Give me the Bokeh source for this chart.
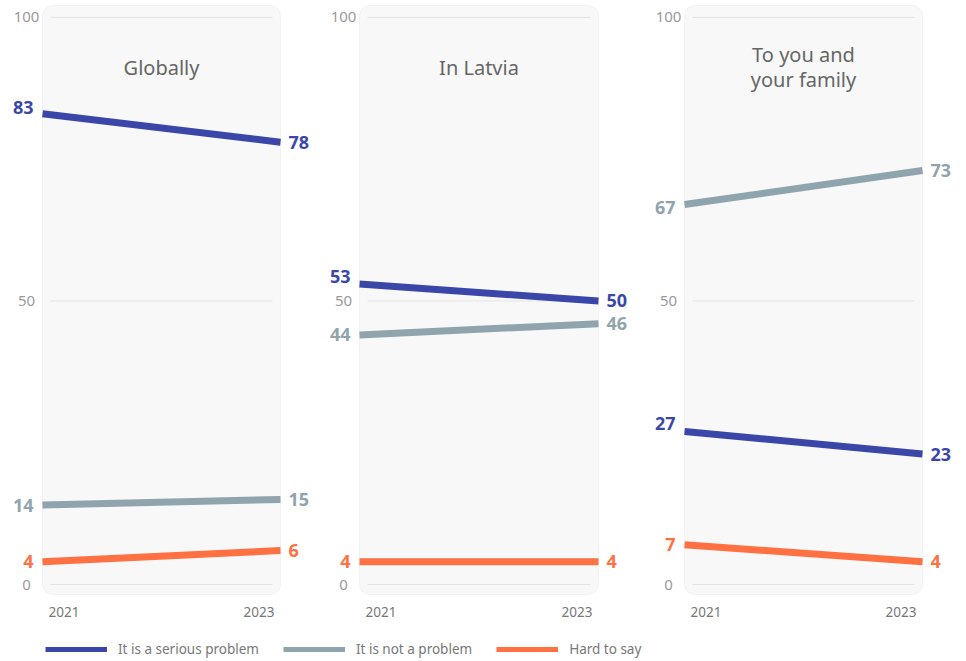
from bokeh.plotting import figure
from bokeh.layouts import row, column
from bokeh.models import (ColumnDataSource, LabelSet, Label, BoxAnnotation, Legend,
                          LegendItem, Range1d)
from bokeh.core.properties import value, field
from bokeh.embed import file_html
from bokeh.resources import INLINE

# ---- data ----
years = [2021, 2023]
panel_titles = ["Globally", "In Latvia", "To you and\nyour family"]
series_names = ["It is a serious problem", "It is not a problem", "Hard to say"]
serious = [[83, 78], [53, 50], [27, 23]]
not_problem = [[14, 15], [44, 46], [67, 73]]
hard_to_say = [[4, 6], [4, 4], [7, 4]]
y_ticks = [0, 50, 100]

# ---- style / layout ----
colors = ["#3a47a9", "#90a4ae", "#ff7043"]
FONT = "Noto Sans"
left_nudge = [[6, 0, 0], [7, 0, 0], [8, -3, 0]]   # px, label collision nudges
fig_w = [320, 322, 324]
panel_l = [42, 39, 42]
panel_w = [238, 239, 238]
PANEL_TOP, PANEL_BOT, FIG_H = 5, 594, 625
Y0, Y1 = -1.76, 102.1          # values at the panel's bottom / top edge
PPU = (PANEL_BOT - PANEL_TOP) / (Y1 - Y0)


def make_panel(i):
    pxper = panel_w[i] / (years[-1] - years[0])
    xs = years[0] - panel_l[i] / pxper
    xe = years[-1] + (fig_w[i] - panel_l[i] - panel_w[i]) / pxper
    ys = Y0 - (FIG_H - PANEL_BOT) / PPU
    ye = Y1 + PANEL_TOP / PPU
    p = figure(width=fig_w[i], height=FIG_H, min_border=0,
               x_axis_type=None, y_axis_type=None,
               x_range=Range1d(xs, xe), y_range=Range1d(ys, ye),
               output_backend="svg", toolbar_location=None, tools="")
    p.background_fill_color = "white"
    p.border_fill_color = "white"
    p.outline_line_color = None

    box = BoxAnnotation(left=years[0], right=years[-1], bottom=Y0, top=Y1,
                        fill_color="#f8f8f8", fill_alpha=1.0, line_color="#dddddd",
                        line_width=1, border_radius=10, level="image")
    p.add_layout(box)

    inset = 8 / pxper
    p.segment(x0=[years[0] + inset] * len(y_ticks), x1=[years[-1] - inset] * len(y_ticks),
              y0=y_ticks, y1=y_ticks, line_color="#e4e4e4", line_width=1)

    tick_src = ColumnDataSource(dict(x=[years[0]] * len(y_ticks), y=y_ticks,
                                     text=[str(t) for t in y_ticks]))
    p.add_layout(LabelSet(x="x", y="y", text="text", source=tick_src, x_offset=-16,
                          text_align="center", text_baseline="middle",
                          text_color="#9a9a9a", text_font=value(FONT),
                          text_font_size=value("15px")))

    vals = [serious[i], not_problem[i], hard_to_say[i]]
    for v, c in zip(vals, colors):
        p.line(years, v, line_width=7, color=c, line_cap="butt")

    left_src = ColumnDataSource(dict(
        x=[years[0]] * 3, y=[v[0] for v in vals], text=[str(v[0]) for v in vals],
        color=colors, dy=left_nudge[i]))
    right_src = ColumnDataSource(dict(
        x=[years[-1]] * 3, y=[v[-1] for v in vals], text=[str(v[-1]) for v in vals],
        color=colors))
    p.add_layout(LabelSet(x="x", y="y", text="text", source=left_src,
                          text_color=field("color"), x_offset=-9, y_offset=field("dy"),
                          text_align="right", text_baseline="middle",
                          text_font=value(FONT), text_font_size=value("18px"),
                          text_font_style="bold"))
    p.add_layout(LabelSet(x="x", y="y", text="text", source=right_src,
                          text_color=field("color"), x_offset=8,
                          text_align="left", text_baseline="middle",
                          text_font=value(FONT), text_font_size=value("18px"),
                          text_font_style="bold"))

    p.add_layout(Label(x=(years[0] + years[-1]) / 2, y=91.2, text=panel_titles[i],
                       text_align="center", text_baseline="middle",
                       text_font=FONT, text_font_size="20px", text_color="#666666",
                       text_line_height=0.92))
    p.add_layout(Label(x=years[0], y=Y0, x_offset=6, y_offset=-17, text=str(years[0]),
                       text_align="left", text_baseline="middle",
                       text_font=FONT, text_font_size="13.5px", text_color="#777777"))
    p.add_layout(Label(x=years[-1], y=Y0, x_offset=-6, y_offset=-17, text=str(years[-1]),
                       text_align="right", text_baseline="middle",
                       text_font=FONT, text_font_size="13.5px", text_color="#777777"))
    return p


panels = [make_panel(i) for i in range(3)]

lf = figure(width=sum(fig_w), height=35, min_border=0, toolbar_location=None, tools="",
            output_backend="svg", x_range=Range1d(0, 1), y_range=Range1d(0, 1),
            x_axis_type=None, y_axis_type=None)
lf.outline_line_color = None
lf.background_fill_color = "white"
lf.border_fill_color = "white"
items = []
for s, c, v in zip(series_names, colors, [serious[0], not_problem[0], hard_to_say[0]]):
    r = lf.line(years, v, line_width=5, color=c)   # off-range; only used for legend
    items.append(LegendItem(label=s, renderers=[r]))
leg = Legend(items=items, orientation="horizontal", location=(45, 2),
             glyph_width=62, glyph_height=12, label_height=12, label_standoff=11,
             spacing=24, padding=0, margin=0, border_line_color=None,
             background_fill_alpha=0, label_text_font=FONT,
             label_text_font_size="13.5px", label_text_color="#777777")
lf.add_layout(leg, "center")

layout = column(row(*panels), lf)
open("out.html", "w").write(file_html(layout, INLINE))
